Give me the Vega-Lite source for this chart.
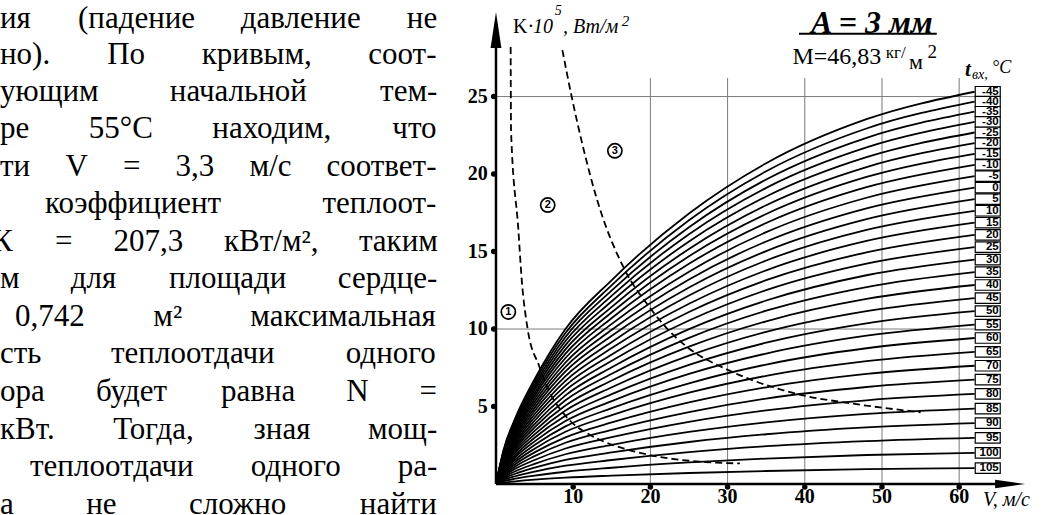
{
"$schema":"https://vega.github.io/schema/vega-lite/v6.json",
"width":1041,"height":515,"padding":0,"autosize":{"type":"none"},
"background":"white",
"config":{"view":{"stroke":null}},
"datasets":{
"curves":[
{"t":-45,"v":0,"k":0},{"t":-45,"v":1,"k":2.23},{"t":-45,"v":2.5,"k":4.25},{"t":-45,"v":5,"k":6.76},{"t":-45,"v":9,"k":10.0},{"t":-45,"v":15,"k":13.16},{"t":-45,"v":25,"k":17.46},{"t":-45,"v":35,"k":20.7},{"t":-45,"v":48,"k":23.54},{"t":-45,"v":62,"k":25.31},
{"t":-40,"v":0,"k":0},{"t":-40,"v":1,"k":2.17},{"t":-40,"v":2.5,"k":4.14},{"t":-40,"v":5,"k":6.59},{"t":-40,"v":9,"k":9.74},{"t":-40,"v":15,"k":12.83},{"t":-40,"v":25,"k":17.02},{"t":-40,"v":35,"k":20.18},{"t":-40,"v":48,"k":22.94},{"t":-40,"v":62,"k":24.67},
{"t":-35,"v":0,"k":0},{"t":-35,"v":1,"k":2.11},{"t":-35,"v":2.5,"k":4.04},{"t":-35,"v":5,"k":6.41},{"t":-35,"v":9,"k":9.49},{"t":-35,"v":15,"k":12.49},{"t":-35,"v":25,"k":16.57},{"t":-35,"v":35,"k":19.65},{"t":-35,"v":48,"k":22.34},{"t":-35,"v":62,"k":24.02},
{"t":-30,"v":0,"k":0},{"t":-30,"v":1,"k":2.06},{"t":-30,"v":2.5,"k":3.92},{"t":-30,"v":5,"k":6.24},{"t":-30,"v":9,"k":9.23},{"t":-30,"v":15,"k":12.15},{"t":-30,"v":25,"k":16.12},{"t":-30,"v":35,"k":19.11},{"t":-30,"v":48,"k":21.72},{"t":-30,"v":62,"k":23.36},
{"t":-25,"v":0,"k":0},{"t":-25,"v":1,"k":2.0},{"t":-25,"v":2.5,"k":3.81},{"t":-25,"v":5,"k":6.06},{"t":-25,"v":9,"k":8.96},{"t":-25,"v":15,"k":11.79},{"t":-25,"v":25,"k":15.65},{"t":-25,"v":35,"k":18.55},{"t":-25,"v":48,"k":21.09},{"t":-25,"v":62,"k":22.68},
{"t":-20,"v":0,"k":0},{"t":-20,"v":1,"k":1.94},{"t":-20,"v":2.5,"k":3.69},{"t":-20,"v":5,"k":5.87},{"t":-20,"v":9,"k":8.69},{"t":-20,"v":15,"k":11.43},{"t":-20,"v":25,"k":15.17},{"t":-20,"v":35,"k":17.99},{"t":-20,"v":48,"k":20.45},{"t":-20,"v":62,"k":21.99},
{"t":-15,"v":0,"k":0},{"t":-15,"v":1,"k":1.87},{"t":-15,"v":2.5,"k":3.58},{"t":-15,"v":5,"k":5.69},{"t":-15,"v":9,"k":8.41},{"t":-15,"v":15,"k":11.08},{"t":-15,"v":25,"k":14.7},{"t":-15,"v":35,"k":17.42},{"t":-15,"v":48,"k":19.81},{"t":-15,"v":62,"k":21.3},
{"t":-10,"v":0,"k":0},{"t":-10,"v":1,"k":1.81},{"t":-10,"v":2.5,"k":3.46},{"t":-10,"v":5,"k":5.5},{"t":-10,"v":9,"k":8.13},{"t":-10,"v":15,"k":10.71},{"t":-10,"v":25,"k":14.21},{"t":-10,"v":35,"k":16.84},{"t":-10,"v":48,"k":19.15},{"t":-10,"v":62,"k":20.59},
{"t":-5,"v":0,"k":0},{"t":-5,"v":1,"k":1.75},{"t":-5,"v":2.5,"k":3.34},{"t":-5,"v":5,"k":5.3},{"t":-5,"v":9,"k":7.84},{"t":-5,"v":15,"k":10.33},{"t":-5,"v":25,"k":13.7},{"t":-5,"v":35,"k":16.25},{"t":-5,"v":48,"k":18.47},{"t":-5,"v":62,"k":19.86},
{"t":0,"v":0,"k":0},{"t":0,"v":1,"k":1.68},{"t":0,"v":2.5,"k":3.21},{"t":0,"v":5,"k":5.11},{"t":0,"v":9,"k":7.56},{"t":0,"v":15,"k":9.95},{"t":0,"v":25,"k":13.2},{"t":0,"v":35,"k":15.65},{"t":0,"v":48,"k":17.79},{"t":0,"v":62,"k":19.13},
{"t":5,"v":0,"k":0},{"t":5,"v":1,"k":1.62},{"t":5,"v":2.5,"k":3.09},{"t":5,"v":5,"k":4.91},{"t":5,"v":9,"k":7.26},{"t":5,"v":15,"k":9.56},{"t":5,"v":25,"k":12.68},{"t":5,"v":35,"k":15.03},{"t":5,"v":48,"k":17.09},{"t":5,"v":62,"k":18.38},
{"t":10,"v":0,"k":0},{"t":10,"v":1,"k":1.55},{"t":10,"v":2.5,"k":2.96},{"t":10,"v":5,"k":4.71},{"t":10,"v":9,"k":6.96},{"t":10,"v":15,"k":9.17},{"t":10,"v":25,"k":12.16},{"t":10,"v":35,"k":14.42},{"t":10,"v":48,"k":16.4},{"t":10,"v":62,"k":17.63},
{"t":15,"v":0,"k":0},{"t":15,"v":1,"k":1.48},{"t":15,"v":2.5,"k":2.83},{"t":15,"v":5,"k":4.5},{"t":15,"v":9,"k":6.66},{"t":15,"v":15,"k":8.77},{"t":15,"v":25,"k":11.63},{"t":15,"v":35,"k":13.79},{"t":15,"v":48,"k":15.68},{"t":15,"v":62,"k":16.86},
{"t":20,"v":0,"k":0},{"t":20,"v":1,"k":1.42},{"t":20,"v":2.5,"k":2.7},{"t":20,"v":5,"k":4.29},{"t":20,"v":9,"k":6.35},{"t":20,"v":15,"k":8.36},{"t":20,"v":25,"k":11.1},{"t":20,"v":35,"k":13.15},{"t":20,"v":48,"k":14.95},{"t":20,"v":62,"k":16.08},
{"t":25,"v":0,"k":0},{"t":25,"v":1,"k":1.35},{"t":25,"v":2.5,"k":2.57},{"t":25,"v":5,"k":4.08},{"t":25,"v":9,"k":6.04},{"t":25,"v":15,"k":7.95},{"t":25,"v":25,"k":10.55},{"t":25,"v":35,"k":12.51},{"t":25,"v":48,"k":14.22},{"t":25,"v":62,"k":15.29},
{"t":30,"v":0,"k":0},{"t":30,"v":1,"k":1.27},{"t":30,"v":2.5,"k":2.43},{"t":30,"v":5,"k":3.87},{"t":30,"v":9,"k":5.72},{"t":30,"v":15,"k":7.53},{"t":30,"v":25,"k":9.99},{"t":30,"v":35,"k":11.84},{"t":30,"v":48,"k":13.47},{"t":30,"v":62,"k":14.48},
{"t":35,"v":0,"k":0},{"t":35,"v":1,"k":1.2},{"t":35,"v":2.5,"k":2.3},{"t":35,"v":5,"k":3.65},{"t":35,"v":9,"k":5.4},{"t":35,"v":15,"k":7.11},{"t":35,"v":25,"k":9.43},{"t":35,"v":35,"k":11.18},{"t":35,"v":48,"k":12.71},{"t":35,"v":62,"k":13.67},
{"t":40,"v":0,"k":0},{"t":40,"v":1,"k":1.13},{"t":40,"v":2.5,"k":2.16},{"t":40,"v":5,"k":3.43},{"t":40,"v":9,"k":5.07},{"t":40,"v":15,"k":6.68},{"t":40,"v":25,"k":8.86},{"t":40,"v":35,"k":10.5},{"t":40,"v":48,"k":11.94},{"t":40,"v":62,"k":12.84},
{"t":45,"v":0,"k":0},{"t":45,"v":1,"k":1.06},{"t":45,"v":2.5,"k":2.02},{"t":45,"v":5,"k":3.2},{"t":45,"v":9,"k":4.74},{"t":45,"v":15,"k":6.24},{"t":45,"v":25,"k":8.28},{"t":45,"v":35,"k":9.82},{"t":45,"v":48,"k":11.16},{"t":45,"v":62,"k":12.0},
{"t":50,"v":0,"k":0},{"t":50,"v":1,"k":0.98},{"t":50,"v":2.5,"k":1.87},{"t":50,"v":5,"k":2.98},{"t":50,"v":9,"k":4.4},{"t":50,"v":15,"k":5.8},{"t":50,"v":25,"k":7.69},{"t":50,"v":35,"k":9.12},{"t":50,"v":48,"k":10.37},{"t":50,"v":62,"k":11.15},
{"t":55,"v":0,"k":0},{"t":55,"v":1,"k":0.91},{"t":55,"v":2.5,"k":1.73},{"t":55,"v":5,"k":2.75},{"t":55,"v":9,"k":4.06},{"t":55,"v":15,"k":5.35},{"t":55,"v":25,"k":7.1},{"t":55,"v":35,"k":8.42},{"t":55,"v":48,"k":9.57},{"t":55,"v":62,"k":10.29},
{"t":60,"v":0,"k":0},{"t":60,"v":1,"k":0.83},{"t":60,"v":2.5,"k":1.58},{"t":60,"v":5,"k":2.52},{"t":60,"v":9,"k":3.72},{"t":60,"v":15,"k":4.9},{"t":60,"v":25,"k":6.5},{"t":60,"v":35,"k":7.71},{"t":60,"v":48,"k":8.76},{"t":60,"v":62,"k":9.42},
{"t":65,"v":0,"k":0},{"t":65,"v":1,"k":0.75},{"t":65,"v":2.5,"k":1.43},{"t":65,"v":5,"k":2.28},{"t":65,"v":9,"k":3.37},{"t":65,"v":15,"k":4.44},{"t":65,"v":25,"k":5.89},{"t":65,"v":35,"k":6.98},{"t":65,"v":48,"k":7.93},{"t":65,"v":62,"k":8.53},
{"t":70,"v":0,"k":0},{"t":70,"v":1,"k":0.67},{"t":70,"v":2.5,"k":1.28},{"t":70,"v":5,"k":2.04},{"t":70,"v":9,"k":3.01},{"t":70,"v":15,"k":3.97},{"t":70,"v":25,"k":5.26},{"t":70,"v":35,"k":6.24},{"t":70,"v":48,"k":7.1},{"t":70,"v":62,"k":7.63},
{"t":75,"v":0,"k":0},{"t":75,"v":1,"k":0.59},{"t":75,"v":2.5,"k":1.13},{"t":75,"v":5,"k":1.8},{"t":75,"v":9,"k":2.66},{"t":75,"v":15,"k":3.5},{"t":75,"v":25,"k":4.64},{"t":75,"v":35,"k":5.51},{"t":75,"v":48,"k":6.26},{"t":75,"v":62,"k":6.73},
{"t":80,"v":0,"k":0},{"t":80,"v":1,"k":0.51},{"t":80,"v":2.5,"k":0.98},{"t":80,"v":5,"k":1.55},{"t":80,"v":9,"k":2.29},{"t":80,"v":15,"k":3.02},{"t":80,"v":25,"k":4.01},{"t":80,"v":35,"k":4.75},{"t":80,"v":48,"k":5.4},{"t":80,"v":62,"k":5.81},
{"t":85,"v":0,"k":0},{"t":85,"v":1,"k":0.43},{"t":85,"v":2.5,"k":0.82},{"t":85,"v":5,"k":1.3},{"t":85,"v":9,"k":1.92},{"t":85,"v":15,"k":2.53},{"t":85,"v":25,"k":3.36},{"t":85,"v":35,"k":3.98},{"t":85,"v":48,"k":4.53},{"t":85,"v":62,"k":4.87},
{"t":90,"v":0,"k":0},{"t":90,"v":1,"k":0.35},{"t":90,"v":2.5,"k":0.66},{"t":90,"v":5,"k":1.05},{"t":90,"v":9,"k":1.55},{"t":90,"v":15,"k":2.04},{"t":90,"v":25,"k":2.71},{"t":90,"v":35,"k":3.21},{"t":90,"v":48,"k":3.65},{"t":90,"v":62,"k":3.93},
{"t":95,"v":0,"k":0},{"t":95,"v":1,"k":0.26},{"t":95,"v":2.5,"k":0.5},{"t":95,"v":5,"k":0.8},{"t":95,"v":9,"k":1.18},{"t":95,"v":15,"k":1.55},{"t":95,"v":25,"k":2.06},{"t":95,"v":35,"k":2.44},{"t":95,"v":48,"k":2.77},{"t":95,"v":62,"k":2.98},
{"t":100,"v":0,"k":0},{"t":100,"v":1,"k":0.18},{"t":100,"v":2.5,"k":0.34},{"t":100,"v":5,"k":0.54},{"t":100,"v":9,"k":0.79},{"t":100,"v":15,"k":1.05},{"t":100,"v":25,"k":1.39},{"t":100,"v":35,"k":1.64},{"t":100,"v":48,"k":1.87},{"t":100,"v":62,"k":2.01},
{"t":105,"v":0,"k":0},{"t":105,"v":1,"k":0.09},{"t":105,"v":2.5,"k":0.17},{"t":105,"v":5,"k":0.28},{"t":105,"v":9,"k":0.41},{"t":105,"v":15,"k":0.54},{"t":105,"v":25,"k":0.71},{"t":105,"v":35,"k":0.84},{"t":105,"v":48,"k":0.96},{"t":105,"v":62,"k":1.03}
],
"labels":[
{"lab":"-45","v":63.7,"k":25.31},{"lab":"-40","v":63.7,"k":24.67},{"lab":"-35","v":63.7,"k":24.02},{"lab":"-30","v":63.7,"k":23.36},{"lab":"-25","v":63.7,"k":22.68},{"lab":"-20","v":63.7,"k":21.99},{"lab":"-15","v":63.7,"k":21.3},{"lab":"-10","v":63.7,"k":20.59},{"lab":"-5","v":63.7,"k":19.86},{"lab":"0","v":63.7,"k":19.13},{"lab":"5","v":63.7,"k":18.38},{"lab":"10","v":63.7,"k":17.63},{"lab":"15","v":63.7,"k":16.86},{"lab":"20","v":63.7,"k":16.08},{"lab":"25","v":63.7,"k":15.29},{"lab":"30","v":63.7,"k":14.48},{"lab":"35","v":63.7,"k":13.67},{"lab":"40","v":63.7,"k":12.84},{"lab":"45","v":63.7,"k":12.0},{"lab":"50","v":63.7,"k":11.15},{"lab":"55","v":63.7,"k":10.29},{"lab":"60","v":63.7,"k":9.42},{"lab":"65","v":63.7,"k":8.53},{"lab":"70","v":63.7,"k":7.63},{"lab":"75","v":63.7,"k":6.73},{"lab":"80","v":63.7,"k":5.81},{"lab":"85","v":63.7,"k":4.87},{"lab":"90","v":63.7,"k":3.93},{"lab":"95","v":63.7,"k":2.98},{"lab":"100","v":63.7,"k":2.01},{"lab":"105","v":63.7,"k":1.03}
],
"dashed":[
{"c":1,"v":1.9,"k":28.2},{"c":1,"v":1.95,"k":22.8},{"c":1,"v":2.9,"k":16.4},{"c":1,"v":3.33,"k":13.2},{"c":1,"v":4.1,"k":10.0},{"c":1,"v":5.6,"k":7.6},{"c":1,"v":6.8,"k":6.07},{"c":1,"v":9.0,"k":4.4},{"c":1,"v":12.2,"k":3.16},{"c":1,"v":13.5,"k":2.84},{"c":1,"v":16.5,"k":2.3},{"c":1,"v":19.9,"k":1.87},{"c":1,"v":26.4,"k":1.44},{"c":1,"v":31.6,"k":1.33},
{"c":2,"v":8.6,"k":28.0},{"c":2,"v":9.8,"k":25.0},{"c":2,"v":11.3,"k":21.7},{"c":2,"v":13.0,"k":18.5},{"c":2,"v":16.7,"k":13.8},{"c":2,"v":19.9,"k":11.4},{"c":2,"v":22.4,"k":9.9},{"c":2,"v":24.7,"k":8.86},{"c":2,"v":30.1,"k":7.35},{"c":2,"v":36.4,"k":6.17},{"c":2,"v":39.6,"k":5.74},{"c":2,"v":46,"k":5.2},{"c":2,"v":55,"k":4.63}
],
"gridv":[{"v":20,"k":0,"k2":26.2},{"v":30,"k":0,"k2":26.2},{"v":40,"k":0,"k2":26.2},{"v":50,"k":0,"k2":26.2},{"v":60,"k":0,"k2":26.2}],
"gridh":[{"v":0,"v2":62,"k":10},{"v":0,"v2":62,"k":25}],
"axes":[{"v":0,"k":0,"v2":0,"k2":29},{"v":0,"k":0,"v2":67,"k2":0}],
"yticks":[{"v":-0.3,"k":5,"lab":"5"},{"v":-0.3,"k":10,"lab":"10"},{"v":-0.3,"k":15,"lab":"15"},{"v":-0.3,"k":20,"lab":"20"},{"v":-0.3,"k":25,"lab":"25"}],
"xticks":[{"v":10,"k":-0.2,"lab":"10"},{"v":20,"k":-0.2,"lab":"20"},{"v":30,"k":-0.2,"lab":"30"},{"v":40,"k":-0.2,"lab":"40"},{"v":50,"k":-0.2,"lab":"50"},{"v":60,"k":-0.2,"lab":"60"}],
"zones":[{"v":1.6,"k":11.1,"lab":"1"},{"v":6.7,"k":18.0,"lab":"2"},{"v":15.4,"k":21.5,"lab":"3"}],
"page":[
{"v":-64.25,"k":30.03,"txt":"ия"},{"v":-54.15,"k":30.03,"txt":"(падение"},{"v":-33.06,"k":30.03,"txt":"давление"},{"v":-11.55,"k":30.03,"txt":"не"},
{"v":-64.25,"k":27.68,"txt":"но)."},{"v":-50.37,"k":27.68,"txt":"По"},{"v":-38.11,"k":27.68,"txt":"кривым,"},{"v":-16.55,"k":27.68,"txt":"соот-"},
{"v":-64.25,"k":25.28,"txt":"ующим"},{"v":-42.25,"k":25.28,"txt":"начальной"},{"v":-15.01,"k":25.28,"txt":"тем-"},
{"v":-64.25,"k":22.88,"txt":"ре"},{"v":-52.75,"k":22.88,"txt":"55°С"},{"v":-36.74,"k":22.88,"txt":"находим,"},{"v":-13.43,"k":22.88,"txt":"что"},
{"v":-64.25,"k":20.47,"txt":"ти"},{"v":-55.78,"k":20.47,"txt":"V"},{"v":-48.33,"k":20.47,"txt":"="},{"v":-41.5,"k":20.47,"txt":"3,3"},{"v":-31.92,"k":20.47,"txt":"м/с"},{"v":-21.96,"k":20.47,"txt":"соответ-"},
{"v":-58.42,"k":18.06,"txt":"коэффициент"},{"v":-22.47,"k":18.06,"txt":"теплоот-"},
{"v":-65.28,"k":15.64,"txt":"К"},{"v":-57.11,"k":15.64,"txt":"="},{"v":-49.55,"k":15.64,"txt":"207,3"},{"v":-35.23,"k":15.64,"txt":"кВт/м²,"},{"v":-17.76,"k":15.64,"txt":"таким"},
{"v":-64.25,"k":13.21,"txt":"м"},{"v":-55.08,"k":13.21,"txt":"для"},{"v":-42.37,"k":13.21,"txt":"площади"},{"v":-20.49,"k":13.21,"txt":"сердце-"},
{"v":-62.31,"k":10.79,"txt":"0,742"},{"v":-44.39,"k":10.79,"txt":"м²"},{"v":-31.83,"k":10.79,"txt":"максимальная"},
{"v":-64.25,"k":8.36,"txt":"сть"},{"v":-49.87,"k":8.36,"txt":"теплоотдачи"},{"v":-19.46,"k":8.36,"txt":"одного"},
{"v":-64.25,"k":5.94,"txt":"ора"},{"v":-51.83,"k":5.94,"txt":"будет"},{"v":-35.63,"k":5.94,"txt":"равна"},{"v":-19.4,"k":5.94,"txt":"N"},{"v":-9.9,"k":5.94,"txt":"="},
{"v":-64.25,"k":3.51,"txt":"кВт."},{"v":-49.59,"k":3.51,"txt":"Тогда,"},{"v":-31.4,"k":3.51,"txt":"зная"},{"v":-16.58,"k":3.51,"txt":"мощ-"},
{"v":-60.36,"k":1.08,"txt":"теплоотдачи"},{"v":-31.76,"k":1.08,"txt":"одного"},{"v":-12.74,"k":1.08,"txt":"ра-"},
{"v":-64.25,"k":-1.34,"txt":"а"},{"v":-53.08,"k":-1.34,"txt":"не"},{"v":-39.78,"k":-1.34,"txt":"сложно"},{"v":-17.64,"k":-1.34,"txt":"найти"}
]
},
"encoding":{
"x":{"field":"v","type":"quantitative","scale":{"domain":[-64.25,70.6],"nice":false,"zero":false},"axis":null},
"y":{"field":"k","type":"quantitative","scale":{"domain":[-2.0,31.23],"nice":false,"zero":false},"axis":null}
},
"layer":[
{"data":{"name":"gridv"},"mark":{"type":"rule","color":"#7a7a7a","strokeWidth":1},"encoding":{"y2":{"field":"k2"}}},
{"data":{"name":"gridh"},"mark":{"type":"rule","color":"#7a7a7a","strokeWidth":1},"encoding":{"x2":{"field":"v2"}}},
{"data":{"name":"curves"},"mark":{"type":"line","color":"black","strokeWidth":1.8,"interpolate":"monotone"},"encoding":{"detail":{"field":"t","type":"nominal"}}},
{"data":{"name":"dashed"},"mark":{"type":"line","color":"black","strokeWidth":1.8,"strokeDash":[7,4],"interpolate":"monotone"},"encoding":{"detail":{"field":"c","type":"nominal"}}},
{"data":{"name":"axes"},"mark":{"type":"rule","color":"black","strokeWidth":2.5},"encoding":{"x2":{"field":"v2"},"y2":{"field":"k2"}}},
{"data":{"values":[{"v":0,"k":29.3}]},"mark":{"type":"point","shape":"M0,-1L0.3,1L-0.3,1Z","filled":true,"color":"black","size":1296,"opacity":1}},
{"data":{"values":[{"v":66.6,"k":0}]},"mark":{"type":"point","shape":"M1,0L-1,0.28L-1,-0.28Z","filled":true,"color":"black","size":900,"opacity":1}},
{"data":{"name":"yticks"},"mark":{"type":"point","shape":"circle","filled":true,"color":"black","size":30,"opacity":1}},
{"data":{"name":"xticks"},"mark":{"type":"point","shape":"circle","filled":true,"color":"black","size":30,"opacity":1}},
{"data":{"name":"yticks"},"mark":{"type":"text","align":"right","baseline":"middle","font":"Liberation Serif","fontWeight":"bold","fontSize":20,"color":"black","dx":-6},"encoding":{"text":{"field":"lab"}}},
{"data":{"name":"xticks"},"mark":{"type":"text","align":"center","baseline":"middle","font":"Liberation Serif","fontWeight":"bold","fontSize":20,"color":"black","dy":10},"encoding":{"text":{"field":"lab"}}},
{"data":{"name":"labels"},"mark":{"type":"point","shape":"M-1,-0.42L1,-0.42L1,0.42L-1,0.42Z","filled":true,"fill":"white","stroke":"black","strokeWidth":1.2,"size":625,"opacity":1}},
{"data":{"name":"labels"},"mark":{"type":"text","align":"right","baseline":"middle","font":"Liberation Sans","fontWeight":"bold","fontSize":11.5,"color":"black","dx":11},"encoding":{"text":{"field":"lab"}}},
{"data":{"name":"zones"},"mark":{"type":"point","shape":"circle","filled":false,"color":"black","strokeWidth":1.7,"size":200,"opacity":1}},
{"data":{"name":"zones"},"mark":{"type":"text","align":"center","baseline":"middle","font":"Liberation Sans","fontWeight":"bold","fontSize":11,"color":"black"},"encoding":{"text":{"field":"lab"}}},
{"data":{"values":[{"v":48.7,"k":29.77,"txt":"A = 3 мм"}]},"mark":{"type":"text","align":"center","baseline":"middle","font":"Liberation Serif","fontWeight":"bold","fontStyle":"italic","fontSize":32,"color":"black"},"encoding":{"text":{"field":"txt"}}},
{"data":{"values":[{"v":39.25,"v2":57.1,"k":29.05}]},"mark":{"type":"rule","color":"black","strokeWidth":2},"encoding":{"x2":{"field":"v2"}}},
{"data":{"values":[{"v":38.4,"k":27.52,"txt":"М=46,83"}]},"mark":{"type":"text","align":"left","baseline":"middle","font":"Liberation Serif","fontSize":24,"color":"black"},"encoding":{"text":{"field":"txt"}}},
{"data":{"values":[{"v":50.5,"k":27.8,"txt":"кг/"}]},"mark":{"type":"text","align":"left","baseline":"middle","font":"Liberation Serif","fontSize":17,"color":"black"},"encoding":{"text":{"field":"txt"}}},
{"data":{"values":[{"v":53.5,"k":27.2,"txt":"м"}]},"mark":{"type":"text","align":"left","baseline":"middle","font":"Liberation Serif","fontSize":22,"color":"black"},"encoding":{"text":{"field":"txt"}}},
{"data":{"values":[{"v":55.9,"k":27.9,"txt":"2"}]},"mark":{"type":"text","align":"left","baseline":"middle","font":"Liberation Serif","fontSize":19,"color":"black"},"encoding":{"text":{"field":"txt"}}},
{"data":{"values":[{"v":2.2,"k":29.5,"txt":"K·"}]},"mark":{"type":"text","align":"left","baseline":"middle","font":"Liberation Serif","fontSize":20,"color":"black"},"encoding":{"text":{"field":"txt"}}},
{"data":{"values":[{"v":4.8,"k":29.5,"txt":"10"}]},"mark":{"type":"text","align":"left","baseline":"middle","font":"Liberation Serif","fontStyle":"italic","fontSize":20,"color":"black"},"encoding":{"text":{"field":"txt"}}},
{"data":{"values":[{"v":7.6,"k":30.5,"txt":"5"}]},"mark":{"type":"text","align":"left","baseline":"middle","font":"Liberation Serif","fontStyle":"italic","fontSize":14,"color":"black"},"encoding":{"text":{"field":"txt"}}},
{"data":{"values":[{"v":8.68,"k":29.5,"txt":", Вт/м"}]},"mark":{"type":"text","align":"left","baseline":"middle","font":"Liberation Serif","fontStyle":"italic","fontSize":20,"color":"black"},"encoding":{"text":{"field":"txt"}}},
{"data":{"values":[{"v":16.3,"k":29.9,"txt":"2"}]},"mark":{"type":"text","align":"left","baseline":"middle","font":"Liberation Serif","fontStyle":"italic","fontSize":15,"color":"black"},"encoding":{"text":{"field":"txt"}}},
{"data":{"values":[{"v":60.75,"k":26.7,"txt":"t"}]},"mark":{"type":"text","align":"left","baseline":"middle","font":"Liberation Serif","fontWeight":"bold","fontStyle":"italic","fontSize":21,"color":"black"},"encoding":{"text":{"field":"txt"}}},
{"data":{"values":[{"v":61.66,"k":26.4,"txt":"вх,"}]},"mark":{"type":"text","align":"left","baseline":"middle","font":"Liberation Serif","fontStyle":"italic","fontSize":14,"color":"black"},"encoding":{"text":{"field":"txt"}}},
{"data":{"values":[{"v":64.25,"k":26.84,"txt":"°C"}]},"mark":{"type":"text","align":"left","baseline":"middle","font":"Liberation Serif","fontStyle":"italic","fontSize":18,"color":"black"},"encoding":{"text":{"field":"txt"}}},
{"data":{"values":[{"v":63.1,"k":-1.03,"txt":"V, м/с"}]},"mark":{"type":"text","align":"left","baseline":"middle","font":"Liberation Serif","fontStyle":"italic","fontSize":20,"color":"black"},"encoding":{"text":{"field":"txt"}}},
{"data":{"name":"page"},"mark":{"type":"text","align":"left","baseline":"middle","font":"Liberation Serif","fontSize":31,"color":"black"},"encoding":{"text":{"field":"txt"}}}
]
}
